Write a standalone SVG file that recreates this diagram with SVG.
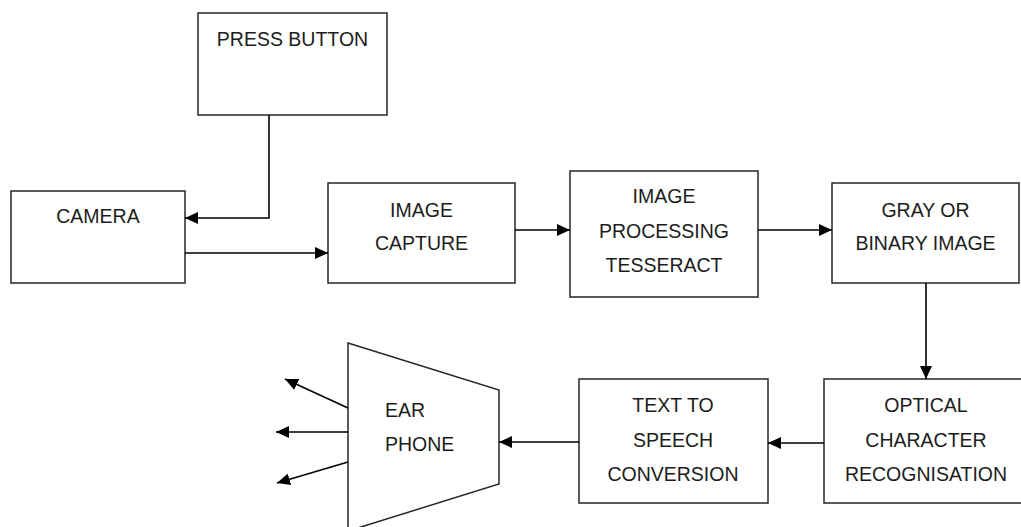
<svg xmlns="http://www.w3.org/2000/svg" width="1021" height="527" viewBox="0 0 1021 527">
<style>
.box{fill:#fff;stroke:#262626;stroke-width:1.5}
.t{font-family:"Liberation Sans",Arial,sans-serif;font-size:19.5px;fill:#1c1c1c;text-anchor:middle}
.tl{font-family:"Liberation Sans",Arial,sans-serif;font-size:19.5px;fill:#1c1c1c}
.c{fill:none;stroke:#000;stroke-width:1.6}
</style>
<defs>
<marker id="ah" markerUnits="userSpaceOnUse" markerWidth="14" markerHeight="12" refX="13" refY="6" orient="auto">
<path d="M0,0 L13,6 L0,12 Z" fill="#000"/>
</marker>
</defs>
<rect width="1021" height="527" fill="#fff"/>
<g id="press-button"><rect class="box" x="198" y="13" width="189" height="102"/><text class="t" x="292.5" y="46">PRESS BUTTON</text></g>
<g id="camera"><rect class="box" x="11" y="191" width="174" height="92"/><text class="t" x="98" y="223">CAMERA</text></g>
<g id="image-capture"><rect class="box" x="328" y="183" width="187" height="100"/><text class="t" x="421.5" y="217">IMAGE</text><text class="t" x="421.5" y="250">CAPTURE</text></g>
<g id="image-processing"><rect class="box" x="570" y="171" width="188" height="126"/><text class="t" x="664" y="203">IMAGE</text><text class="t" x="664" y="238">PROCESSING</text><text class="t" x="664" y="272">TESSERACT</text></g>
<g id="gray-binary"><rect class="box" x="832" y="183" width="187" height="100"/><text class="t" x="925.5" y="217">GRAY OR</text><text class="t" x="925.5" y="250">BINARY IMAGE</text></g>
<g id="ocr"><rect class="box" x="824" y="379" width="210" height="124"/><text class="t" x="926" y="412">OPTICAL</text><text class="t" x="926" y="447">CHARACTER</text><text class="t" x="926" y="481">RECOGNISATION</text></g>
<g id="tts"><rect class="box" x="579" y="379" width="189" height="124"/><text class="t" x="673" y="412">TEXT TO</text><text class="t" x="673" y="447">SPEECH</text><text class="t" x="673" y="481">CONVERSION</text></g>
<g id="ear-phone"><path class="box" d="M348,343 L499,390 L499,484 L348,531 Z"/><text class="tl" x="385" y="417">EAR</text><text class="tl" x="385" y="451">PHONE</text></g>
<g id="connectors">
<path class="c" d="M269,115 V218 H185" marker-end="url(#ah)"/>
<path class="c" d="M185,253 H328" marker-end="url(#ah)"/>
<path class="c" d="M515,230 H570" marker-end="url(#ah)"/>
<path class="c" d="M758,230 H832" marker-end="url(#ah)"/>
<path class="c" d="M926,283 V379" marker-end="url(#ah)"/>
<path class="c" d="M824,443 H768" marker-end="url(#ah)"/>
<path class="c" d="M579,442 H499" marker-end="url(#ah)"/>
<path class="c" d="M348,408 L285,379" marker-end="url(#ah)"/>
<path class="c" d="M348,432 H276" marker-end="url(#ah)"/>
<path class="c" d="M348,462 L277,483" marker-end="url(#ah)"/>
</g>
</svg>
